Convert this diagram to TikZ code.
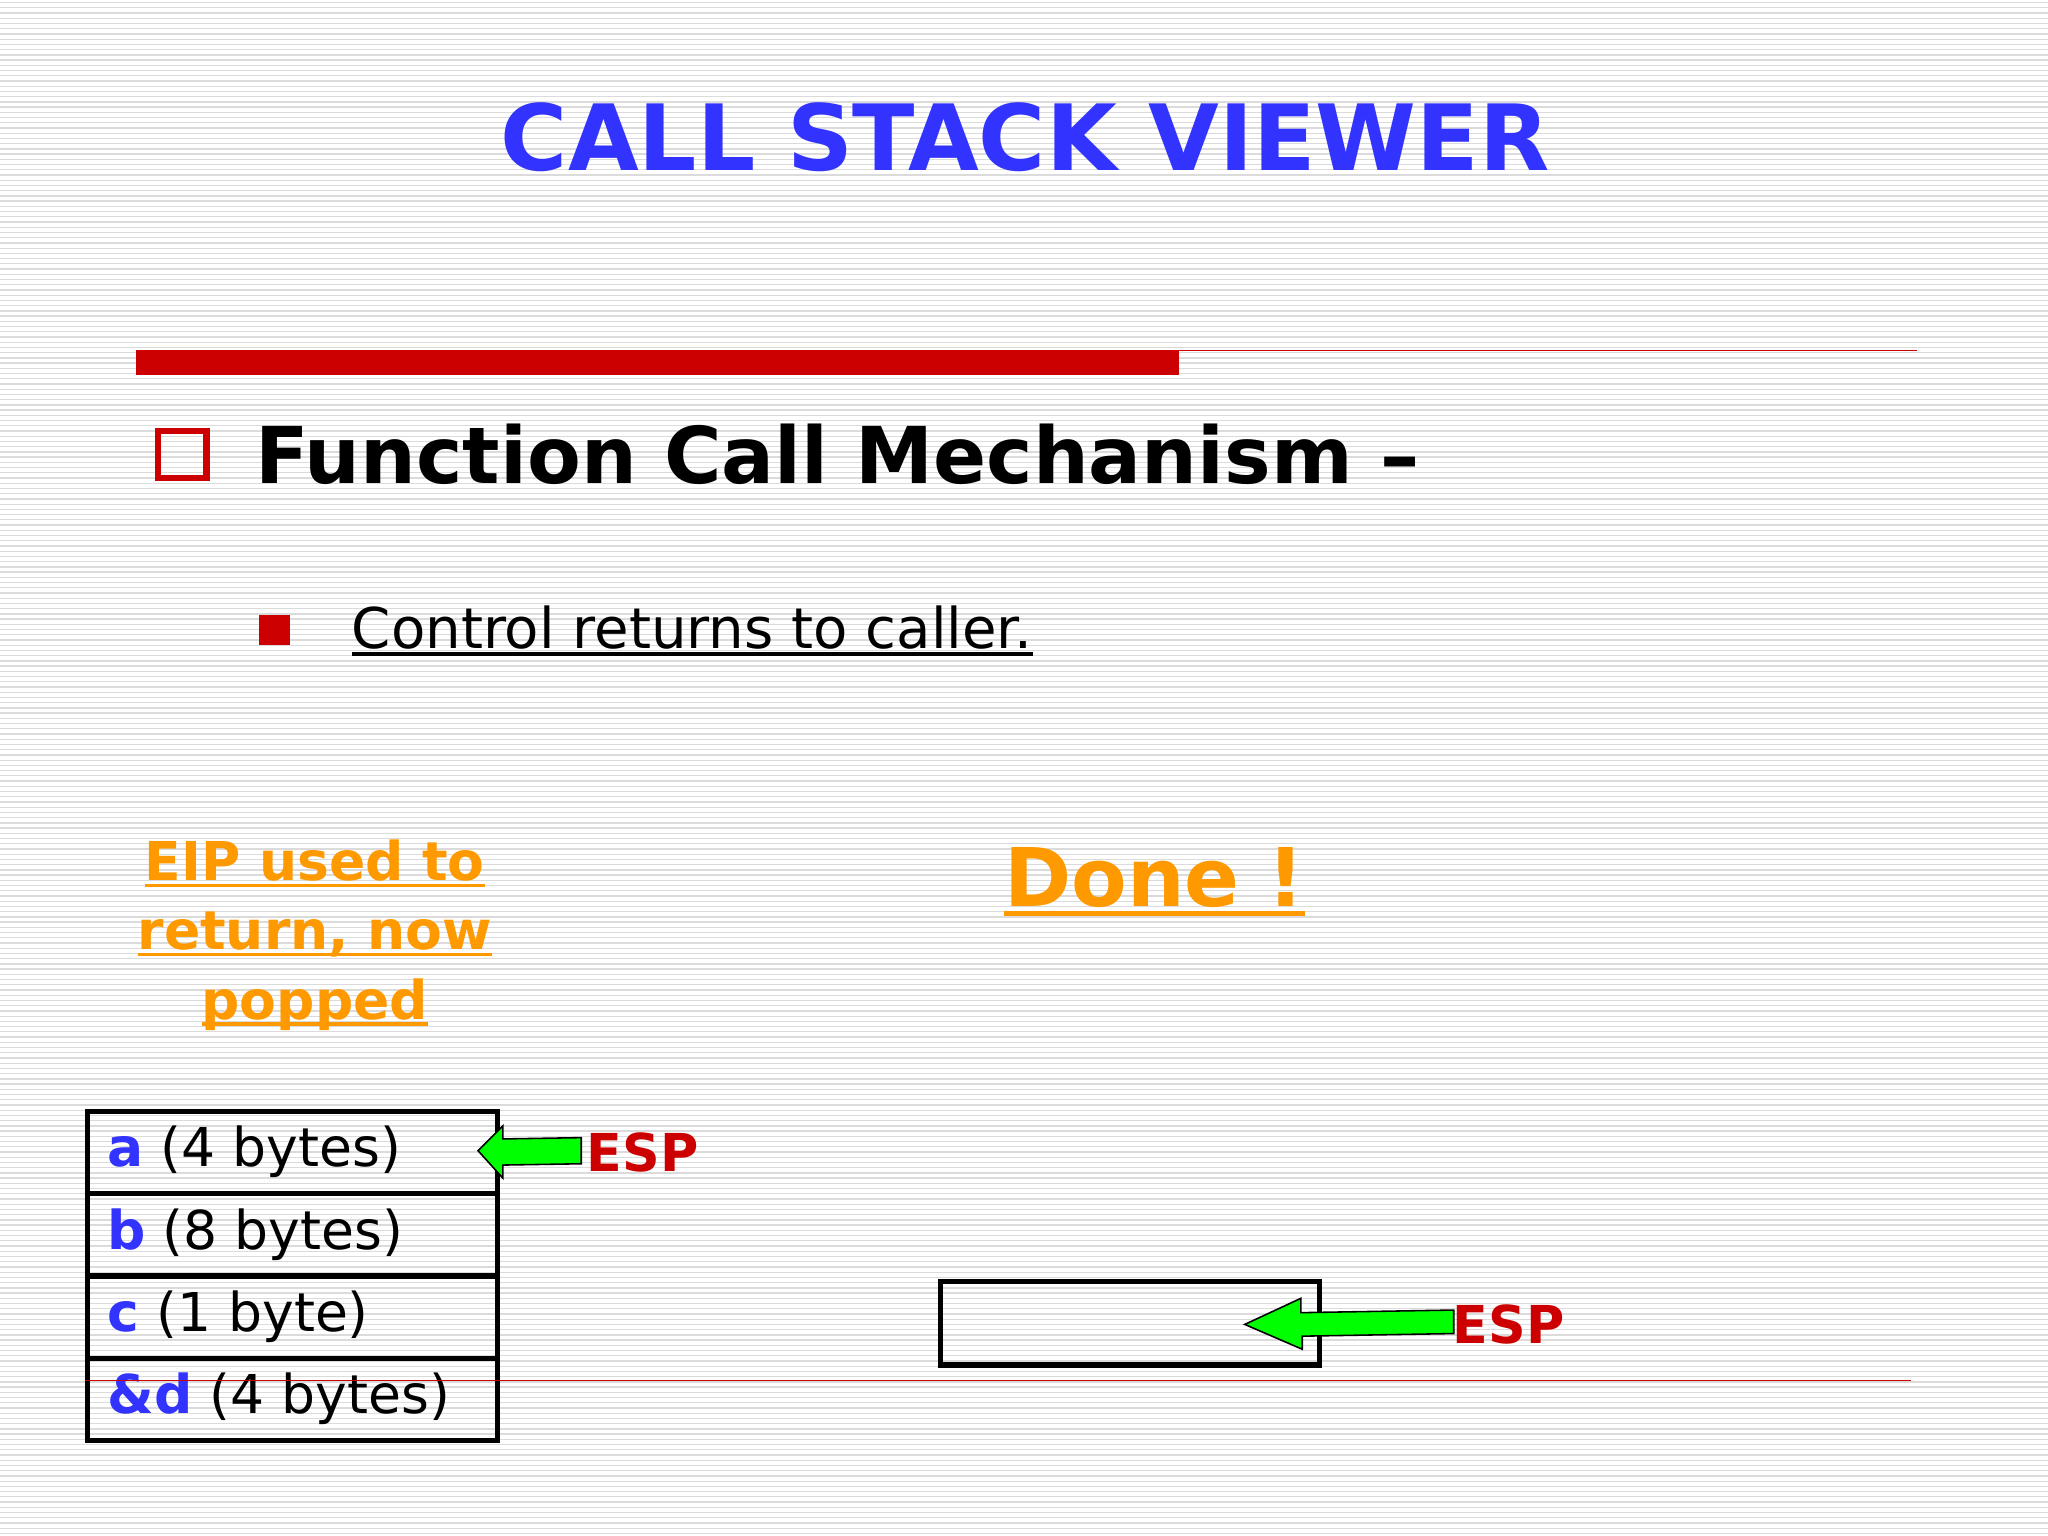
\documentclass[tikz,border=0pt]{standalone}
\usepackage{fontspec}
\setmainfont{DejaVu Sans}
\definecolor{tblue}{RGB}{51,51,255}
\definecolor{tred}{RGB}{204,0,0}
\definecolor{torange}{RGB}{255,153,0}
\definecolor{tgreen}{RGB}{0,255,0}
\newcommand\myul[1]{\setbox0\hbox{#1}\leavevmode\rlap{\raisebox{-0.12em}{\rule{\wd0}{0.06em}}}\box0}
\begin{document}
\begin{tikzpicture}[x=0.5pt,y=-0.5pt,
  row/.style={draw=black,line width=2pt,minimum width=157pt,minimum height=31.5pt,inner sep=0pt,anchor=north west},
  rowtext/.style={anchor=west,inner sep=0pt,font=\fontsize{20.5}{25}\selectfont},
  esp/.style={text=tred,font=\bfseries\fontsize{20}{24}\selectfont,anchor=west,inner sep=0pt},
  garrow/.style={fill=tgreen,draw=black,line width=0.6pt}]
\useasboundingbox (0,0) rectangle (1568,1176);
\fill[white] (0,0) rectangle (1568,1176);
\foreach \y in {2,6,...,1176} \draw[black!14,line width=0.5pt] (0,\y) -- (1568,\y);
\node (title) at (785,105) {\textcolor{tblue}{\bfseries\fontsize{35}{42}\selectfont CALL STACK VIEWER}};
\fill[tred] (104,268) rectangle (903,287);
\draw[tred,line width=0.6pt] (903,268.5) -- (1468,268.5);
\draw[tred,line width=2.5pt] (121,330) rectangle (158,366);
\node[anchor=west,inner sep=0pt] (h) at (195,348) {\bfseries\fontsize{30}{36}\selectfont Function Call Mechanism –};
\fill[tred] (198,471) rectangle (222,494);
\node[anchor=west,inner sep=0pt] (ctl) at (269,483) {\fontsize{21.5}{26}\selectfont\myul{Control returns to caller.}};
\node[align=center,text=torange,font=\bfseries\fontsize{20.5}{26.5}\selectfont] (eip) at (241,716) {\myul{EIP used to}\\\myul{return, now}\\\myul{popped}};
\node[text=torange,font=\bfseries\fontsize{31}{38}\selectfont] (done) at (884,675) {\myul{Done !}};
\node[row] (r1) at (65,849) {};
\node[row] (r2) at (65,912) {};
\node[row] (r3) at (65,975) {};
\node[row] (r4) at (65,1038) {};
\node[rowtext] (t1) at (82,882) {\textcolor{tblue}{\bfseries a} (4 bytes)};
\node[rowtext] (t2) at (82,945) {\textcolor{tblue}{\bfseries b} (8 bytes)};
\node[rowtext] (t3) at (82,1008) {\textcolor{tblue}{\bfseries c} (1 byte)};
\node[rowtext] (t4) at (82,1071) {\textcolor{tblue}{\bfseries \&d} (4 bytes)};
\draw[garrow] (445,871) -- (385,872) -- (385,862) -- (366,881) -- (385,902) -- (385,892) -- (445,891) -- cycle;
\node[esp] (esp1) at (449,882) {ESP};
\node[draw=black,line width=2pt,minimum width=145pt,minimum height=32pt,inner sep=0pt,anchor=north west] (box2) at (718,979) {};
\draw[garrow] (1113,1003) -- (996,1005) -- (996,994) -- (953,1014) -- (997,1033) -- (997,1023) -- (1113,1021) -- cycle;
\node[esp] (esp2) at (1112,1014) {ESP};
\draw[tred,line width=0.5pt] (65,1057) -- (1463,1057);
\end{tikzpicture}
\end{document}
